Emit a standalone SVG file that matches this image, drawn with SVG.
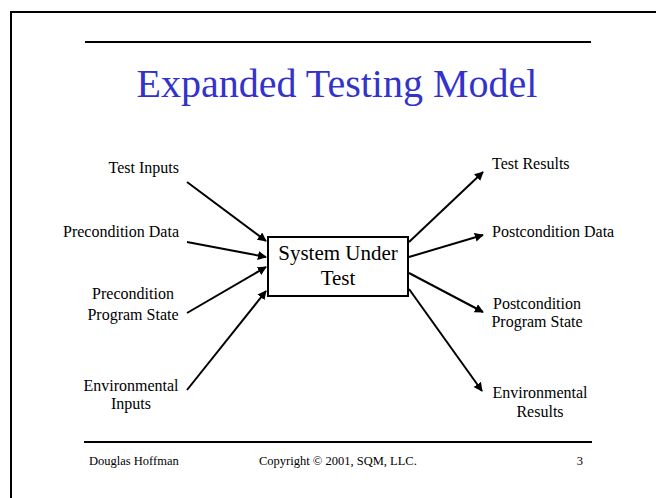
<svg xmlns="http://www.w3.org/2000/svg" width="656" height="498" viewBox="0 0 656 498">
<style>
text{font-family:"Liberation Serif","Times New Roman",serif;fill:#000}
.lbl{font-size:16px}
.foot{font-size:12.5px}
.title{font-size:40px;fill:#3333CC}
.box{font-size:21px}
.conn line{stroke:#000;stroke-width:2;marker-end:url(#ah)}
</style>
<defs>
<marker id="ah" viewBox="0 0 10 10" refX="9" refY="5" markerWidth="4.5" markerHeight="4.5" orient="auto" markerUnits="strokeWidth">
<path d="M0,0 L10,5 L0,10 z" fill="#000"/>
</marker>
</defs>
<rect width="656" height="498" fill="#fff"/>
<rect x="11" y="12" width="700" height="600" fill="none" stroke="#000" stroke-width="2"/>
<line x1="85" y1="42" x2="591" y2="42" stroke="#000" stroke-width="2"/>
<text class="title" x="337" y="97" text-anchor="middle">Expanded Testing Model</text>

<g id="sut">
<rect x="268" y="237" width="140" height="59" fill="#fff" stroke="#000" stroke-width="2"/>
<text class="box" x="338" y="260" text-anchor="middle">System Under</text>
<text class="box" x="338" y="285" text-anchor="middle">Test</text>
</g>
<g id="test-inputs"><text class="lbl" x="179" y="173" text-anchor="end">Test Inputs</text></g>
<g id="precondition-data"><text class="lbl" x="179" y="237" text-anchor="end">Precondition Data</text></g>
<g id="precondition-state"><text class="lbl" x="133" y="299" text-anchor="middle">Precondition</text><text class="lbl" x="133" y="320" text-anchor="middle">Program State</text></g>
<g id="env-inputs"><text class="lbl" x="131" y="391" text-anchor="middle">Environmental</text><text class="lbl" x="131" y="409" text-anchor="middle">Inputs</text></g>
<g id="test-results"><text class="lbl" x="492" y="169">Test Results</text></g>
<g id="postcondition-data"><text class="lbl" x="492" y="237">Postcondition Data</text></g>
<g id="postcondition-state"><text class="lbl" x="537" y="309" text-anchor="middle">Postcondition</text><text class="lbl" x="537" y="327" text-anchor="middle">Program State</text></g>
<g id="env-results"><text class="lbl" x="540" y="398" text-anchor="middle">Environmental</text><text class="lbl" x="540" y="417" text-anchor="middle">Results</text></g>

<g class="conn" id="connectors">
<line x1="187" y1="182" x2="266" y2="241"/>
<line x1="187" y1="242" x2="266" y2="257"/>
<line x1="187" y1="313" x2="266" y2="267"/>
<line x1="187" y1="390" x2="266" y2="291"/>
<line x1="409" y1="242" x2="483" y2="172"/>
<line x1="409" y1="257" x2="483" y2="235"/>
<line x1="409" y1="273" x2="483" y2="312"/>
<line x1="409" y1="289" x2="482" y2="391"/>
</g>

<line x1="84" y1="442" x2="592" y2="442" stroke="#000" stroke-width="2"/>
<text class="foot" x="89" y="465">Douglas Hoffman</text>
<text class="foot" x="259" y="465">Copyright © 2001, SQM, LLC.</text>
<text class="foot" x="583" y="465" text-anchor="end">3</text>
</svg>
